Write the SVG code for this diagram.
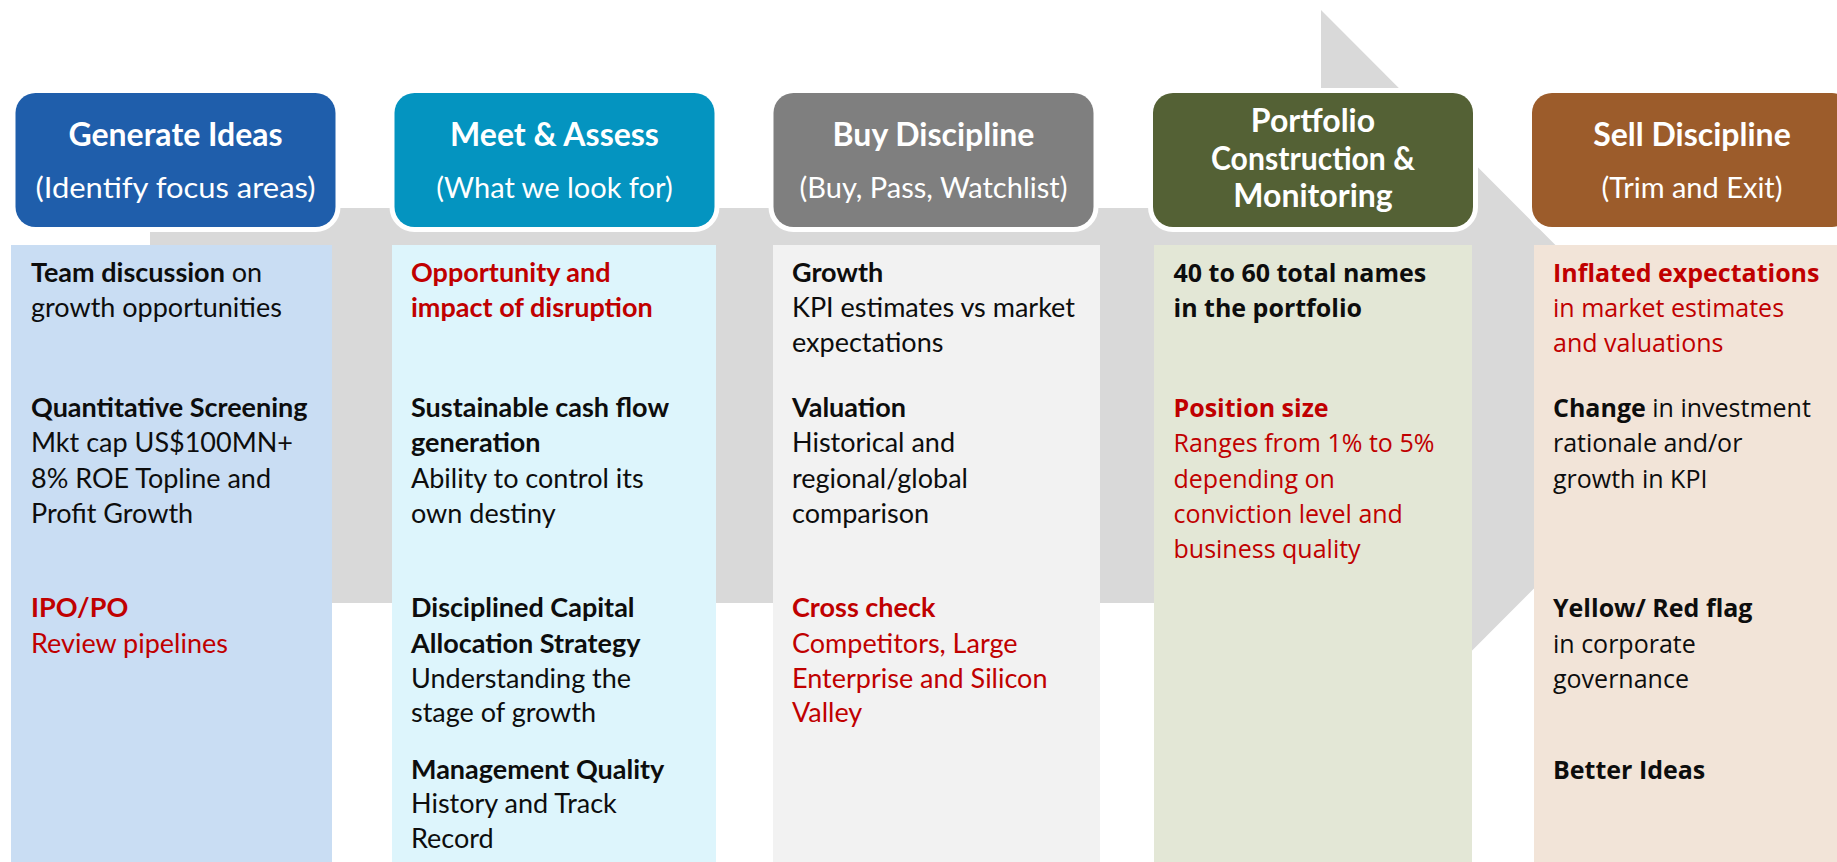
<svg xmlns="http://www.w3.org/2000/svg" width="1837" height="862" viewBox="0 0 1837 862">
  <style>
    .bg { fill: #ffffff; }
    .flow { fill: #d9d9d9; }
    .head { stroke: #ffffff; stroke-width: 10; paint-order: stroke; }
    .ttl { font-family: "Lato", "Liberation Sans", sans-serif; font-weight: 700; font-size: 32px; fill: #ffffff; text-anchor: middle; }
    .sub { font-family: "Lato", "Liberation Sans", sans-serif; font-weight: 400; font-size: 29px; fill: #ffffff; text-anchor: middle; }
    .txt { font-family: "Lato", "Liberation Sans", sans-serif; font-size: 27px; fill: #0d0d0d; }
    .wide { font-family: "Open Sans", "Liberation Sans", sans-serif; font-size: 25px; fill: #0d0d0d; }
    .b { font-weight: 700; }
    .red { fill: #c00000; }
  </style>

  <rect class="bg" x="0" y="0" width="1837" height="862"/>

  <!-- process arrow running behind all columns -->
  <g id="connectors">
    <polygon class="flow" points="150,208 1321,208 1321,10 1716,406 1321,802 1321,603 150,603"/>
  </g>

  <!-- column 1 -->
  <g id="generate-ideas">
    <rect x="11" y="245" width="321" height="617" fill="#c9ddf3"/>
    <rect class="head" x="15.5" y="93" width="320" height="134" rx="20" fill="#1f5eab"/>
    <text class="ttl" x="175.5" y="146">Generate Ideas</text>
    <text class="sub" x="175.5" y="198" textLength="280" lengthAdjust="spacingAndGlyphs">(Identify focus areas)</text>
    <text class="txt" x="31" y="282"><tspan class="b">Team discussion</tspan> on</text>
    <text class="txt" x="31" y="317">growth opportunities</text>
    <text class="txt b" x="31" y="417">Quantitative Screening</text>
    <text class="txt" x="31" y="452">Mkt cap US$100MN+</text>
    <text class="txt" x="31" y="488">8% ROE Topline and</text>
    <text class="txt" x="31" y="523">Profit Growth</text>
    <text class="txt b red" x="31" y="617">IPO/PO</text>
    <text class="txt red" x="31" y="653">Review pipelines</text>
  </g>

  <!-- column 2 -->
  <g id="meet-assess">
    <rect x="392" y="245" width="324" height="617" fill="#ddf5fc"/>
    <rect class="head" x="394.5" y="93" width="320" height="134" rx="20" fill="#0494c0"/>
    <text class="ttl" x="554.5" y="146">Meet &amp; Assess</text>
    <text class="sub" x="554.5" y="198">(What we look for)</text>
    <text class="txt b red" x="411" y="282">Opportunity and</text>
    <text class="txt b red" x="411" y="317">impact of disruption</text>
    <text class="txt b" x="411" y="417">Sustainable cash flow</text>
    <text class="txt b" x="411" y="452">generation</text>
    <text class="txt" x="411" y="488">Ability to control its</text>
    <text class="txt" x="411" y="523">own destiny</text>
    <text class="txt b" x="411" y="617">Disciplined Capital</text>
    <text class="txt b" x="411" y="653">Allocation Strategy</text>
    <text class="txt" x="411" y="688">Understanding the</text>
    <text class="txt" x="411" y="722">stage of growth</text>
    <text class="txt b" x="411" y="779">Management Quality</text>
    <text class="txt" x="411" y="813">History and Track</text>
    <text class="txt" x="411" y="848">Record</text>
  </g>

  <!-- column 3 -->
  <g id="buy-discipline">
    <rect x="773" y="245" width="327" height="617" fill="#f2f2f2"/>
    <rect class="head" x="773.5" y="93" width="320" height="134" rx="20" fill="#7f7f7f"/>
    <text class="ttl" x="933.5" y="146">Buy Discipline</text>
    <text class="sub" x="933.5" y="198">(Buy, Pass, Watchlist)</text>
    <text class="txt b" x="792" y="282">Growth</text>
    <text class="txt" x="792" y="317">KPI estimates vs market</text>
    <text class="txt" x="792" y="352">expectations</text>
    <text class="txt b" x="792" y="417">Valuation</text>
    <text class="txt" x="792" y="452">Historical and</text>
    <text class="txt" x="792" y="488">regional/global</text>
    <text class="txt" x="792" y="523">comparison</text>
    <text class="txt b red" x="792" y="617">Cross check</text>
    <text class="txt red" x="792" y="653">Competitors, Large</text>
    <text class="txt red" x="792" y="688">Enterprise and Silicon</text>
    <text class="txt red" x="792" y="722">Valley</text>
  </g>

  <!-- column 4 -->
  <g id="portfolio-construction">
    <rect x="1154" y="245" width="318" height="617" fill="#e3e7d6"/>
    <rect class="head" x="1153" y="93" width="320" height="134" rx="20" fill="#546135"/>
    <text class="ttl" x="1313" y="132">Portfolio</text>
    <text class="ttl" x="1313" y="170" textLength="204" lengthAdjust="spacingAndGlyphs">Construction &amp;</text>
    <text class="ttl" x="1313" y="207">Monitoring</text>
    <text class="wide b" x="1173.5" y="282">40 to 60 total names</text>
    <text class="wide b" x="1173.5" y="317">in the portfolio</text>
    <text class="wide b red" x="1173.5" y="417">Position size</text>
    <text class="wide red" x="1173.5" y="452">Ranges from 1% to 5%</text>
    <text class="wide red" x="1173.5" y="488">depending on</text>
    <text class="wide red" x="1173.5" y="523">conviction level and</text>
    <text class="wide red" x="1173.5" y="558">business quality</text>
  </g>

  <!-- column 5 -->
  <g id="sell-discipline">
    <rect x="1534" y="245" width="303" height="617" fill="#f2e4d8"/>
    <rect class="head" x="1532" y="93" width="320" height="134" rx="20" fill="#9c5c2b"/>
    <text class="ttl" x="1692" y="146">Sell Discipline</text>
    <text class="sub" x="1692" y="198">(Trim and Exit)</text>
    <text class="wide b red" x="1553" y="282">Inflated expectations</text>
    <text class="wide red" x="1553" y="317">in market estimates</text>
    <text class="wide red" x="1553" y="352">and valuations</text>
    <text class="wide" x="1553" y="417"><tspan class="b">Change</tspan> in investment</text>
    <text class="wide" x="1553" y="452">rationale and/or</text>
    <text class="wide" x="1553" y="488">growth in KPI</text>
    <text class="wide b" x="1553" y="617">Yellow/ Red flag</text>
    <text class="wide" x="1553" y="653">in corporate</text>
    <text class="wide" x="1553" y="688">governance</text>
    <text class="wide b" x="1553" y="779">Better Ideas</text>
  </g>
</svg>
